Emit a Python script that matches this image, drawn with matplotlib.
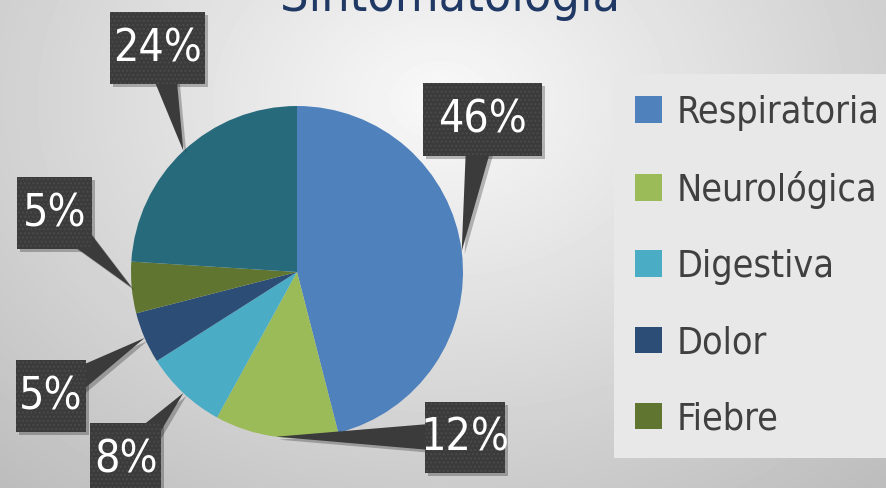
import numpy as np
import matplotlib.pyplot as plt
from matplotlib import font_manager as fm
from matplotlib.patches import Polygon, Rectangle

categories = ['Respiratoria', 'Neurológica', 'Digestiva', 'Dolor', 'Fiebre', 'Otros']
percent = [46, 12, 8, 5, 5, 24]
colors = ['#4F81BD', '#9BBB59', '#4BACC6', '#2C4D75', '#5F7530', '#276A7C']
n_legend = 5  # only five entries are visible in the legend

# callout boxes (pixel layout, y measured from top)
box_x = [483, 465, 126, 51, 55, 158]
box_y = [119, 437, 459, 396, 213, 48]
box_w = [119, 80, 71, 70, 75, 95]
box_h = [73, 71, 72, 72, 72, 72]

W, H = 886, 488


def pick_narrow_font():
    """Look for any condensed / narrow sans installed; else DejaVu Sans."""
    good = []
    for f in fm.fontManager.ttflist:
        if f.style != 'normal' or f.weight not in (400, 'normal', 'regular'):
            continue
        name = f.name.lower()
        if 'narrow' in name or 'condensed' in name or 'condensed' in str(f.stretch):
            good.append(f)
    # prefer the most condensed ones
    order = {'ultra-condensed': 0, 'extra-condensed': 1, 'condensed': 2,
             'semi-condensed': 3}
    good.sort(key=lambda f: order.get(str(f.stretch), 4))
    if good:
        return fm.FontProperties(fname=good[0].fname)
    return fm.FontProperties(family='DejaVu Sans')


def fp(size):
    p = FONT.copy()
    p.set_size(size)
    return p


FONT = pick_narrow_font()

fig = plt.figure(figsize=(W / 100, H / 100), dpi=100)
ax = fig.add_axes([0, 0, 1, 1])

# soft radial grey background
yy, xx = np.mgrid[0:H, 0:W]
d = np.sqrt(((xx - 440) / 620) ** 2 + ((yy - 100) / 480) ** 2)
bg = np.clip(0.975 - 0.22 * d, 0, 1)
ax.imshow(bg, cmap='gray', vmin=0, vmax=1, extent=(0, W, 0, H),
          origin='upper', zorder=0, interpolation='bilinear')

wedges, _ = ax.pie(percent, colors=colors, startangle=90, counterclock=False,
                   center=(297, H - 272), radius=166,
                   wedgeprops=dict(linewidth=0, zorder=2))

# callouts pointing at the middle of each wedge
for w, p, cx, cy, bw, bh in zip(wedges, percent, box_x, box_y, box_w, box_h):
    ang = np.deg2rad((w.theta1 + w.theta2) / 2)
    tx = w.center[0] + w.r * np.cos(ang)
    ty = w.center[1] + w.r * np.sin(ang)
    Y = H - cy
    dx, dy = tx - cx, ty - Y
    L = np.hypot(dx, dy)
    nx, ny = -dy / L * 16, dx / L * 16
    tri = [(cx + nx, Y + ny), (cx - nx, Y - ny), (tx, ty)]
    for off, fc, a, z in [((3, -3), 'black', 0.25, 3), ((0, 0), '#3B3B3B', 1, 4)]:
        ax.add_patch(Polygon([(px + off[0], py + off[1]) for px, py in tri],
                             closed=True, fc=fc, alpha=a, lw=0, zorder=z))
        ax.add_patch(Rectangle((cx - bw / 2 + off[0], Y - bh / 2 + off[1]), bw, bh,
                               fc=fc, alpha=a, lw=0, zorder=z))
    ax.add_patch(Rectangle((cx - bw / 2, Y - bh / 2), bw, bh, fc='none',
                           ec='#4A4A4A', hatch='....', lw=0, zorder=4.5))
    ax.text(cx, Y - 1, f'{p}%', color='white', fontproperties=fp(32),
            ha='center', va='center', zorder=5)

title = ax.text(450, H - 11, 'Sintomatología', fontproperties=fp(36),
                color='#1F3864', ha='center', va='baseline', zorder=5)
fig.canvas.draw()
bb = title.get_window_extent()
ax.plot([bb.x0, bb.x1], [H - 21, H - 21], color='#1F3864', lw=2.6, zorder=5,
        solid_capstyle='butt')

leg = ax.legend(wedges[:n_legend], categories[:n_legend], loc='upper left',
                bbox_to_anchor=(614 / W, 1 - 74 / H), frameon=True,
                facecolor='#E8E8E8', edgecolor='none', framealpha=1,
                fancybox=False, prop=fp(27),
                labelcolor='#404040', handlelength=0.72, handleheight=0.72,
                handletextpad=0.4, labelspacing=1.07, borderpad=0.55,
                borderaxespad=0)
leg.set_zorder(6)

ax.set_xlim(0, W)
ax.set_ylim(0, H)
ax.set_aspect('auto')
ax.axis('off')

fig.savefig('out.png', dpi=100)
